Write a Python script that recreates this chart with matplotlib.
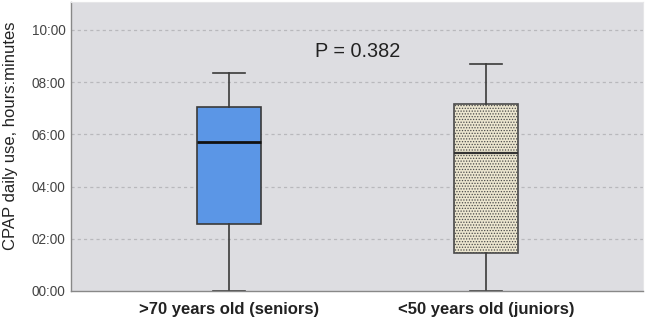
import matplotlib
matplotlib.use('Agg')
import matplotlib.pyplot as plt

plt.rcParams['font.family'] = ['Liberation Sans', 'DejaVu Sans']
plt.rcParams['hatch.linewidth'] = 0.6

# box statistics in hours
groups = ['>70 years old (seniors)', '<50 years old (juniors)']
whislo = [0.0, 0.0]
q1 = [2.55, 1.47]
med = [5.72, 5.30]
q3 = [7.04, 7.16]
whishi = [8.34, 8.69]
yticks = [0, 2, 4, 6, 8, 10]
ytick_labels = ['00:00', '02:00', '04:00', '06:00', '08:00', '10:00']
p_text = 'P = 0.382'

fig = plt.figure(figsize=(6.45, 3.19), dpi=100)
ax = fig.add_axes([0.110, 0.0878, 0.887, 0.906])
ax.set_facecolor('#DDDDE1')

stats = []
for i in range(len(groups)):
    stats.append({'label': groups[i], 'whislo': whislo[i], 'q1': q1[i], 'med': med[i],
                  'q3': q3[i], 'whishi': whishi[i], 'fliers': []})

for y in yticks[1:]:
    ax.axhline(y, color='#B8B8BC', lw=0.9, ls=(0, (2.5, 2.5)), zorder=0)

bp = ax.bxp(stats, positions=[1, 2], widths=0.25, patch_artist=True, showfliers=False,
            capwidths=0.125,
            boxprops=dict(edgecolor='#3A3A3A', linewidth=1.2),
            whiskerprops=dict(color='#3A3A3A', linewidth=1.2),
            capprops=dict(color='#3A3A3A', linewidth=1.2),
            medianprops=dict(color='#111111', linewidth=2))
bp['boxes'][0].set_facecolor('#5B96E6')
bp['boxes'][1].set_facecolor('#ECE6CF')
bp['boxes'][1].set_hatch('......')
bp['boxes'][1].set_edgecolor('#4A4A4A')
bp['medians'][1].set_color('#333333')
bp['medians'][1].set_linewidth(1.6)

ax.set_xlim(0.387, 2.609)
ax.set_ylim(0, 11.07)
ax.set_yticks(yticks)
ax.set_yticklabels(ytick_labels, fontsize=9.8, color='#444444')
ax.set_xticks([1, 2])
ax.set_xticklabels(groups, fontsize=12, fontweight='bold', color='#222222')
ax.tick_params(axis='both', length=0)
ax.tick_params(axis='x', pad=8)
ax.tick_params(axis='y', pad=4)

ax.set_ylabel('CPAP daily use, hours:minutes', fontsize=12, color='#222222')
ax.yaxis.set_label_coords(-0.093, 0.536)

for side in ['top', 'right']:
    ax.spines[side].set_color('#E6E6E8')
    ax.spines[side].set_linewidth(0.8)
for side in ['left', 'bottom']:
    ax.spines[side].set_color('#888888')
    ax.spines[side].set_linewidth(1.0)

ax.text(1.5, 9.16, p_text, ha='center', va='center', fontsize=14.3, color='#222222')

fig.savefig('out.png', dpi=100)
